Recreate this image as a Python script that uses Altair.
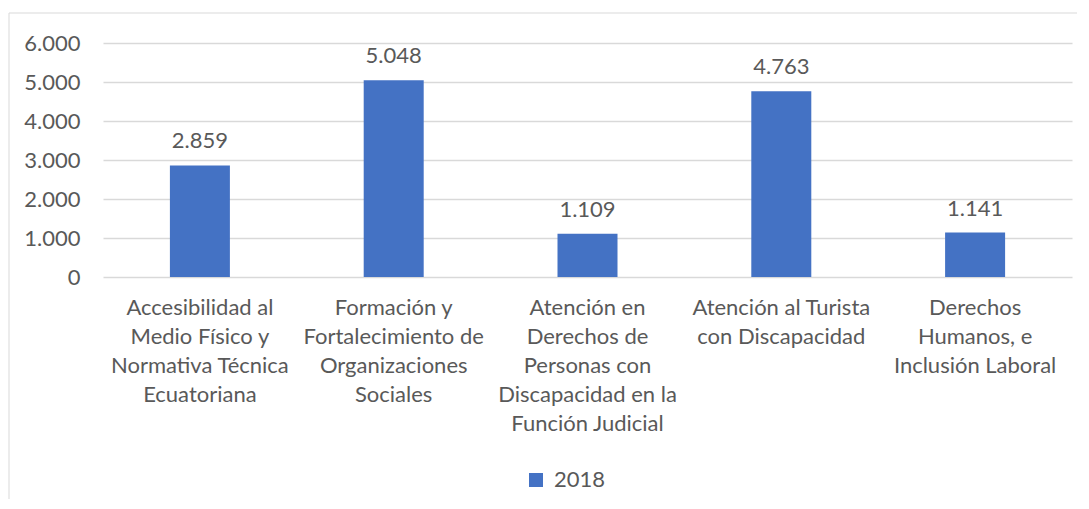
import altair as alt
import pandas as pd

categories = [
    "Accesibilidad al|Medio Físico y|Normativa Técnica|Ecuatoriana",
    "Formación y|Fortalecimiento de|Organizaciones|Sociales",
    "Atención en|Derechos de|Personas con|Discapacidad en la|Función Judicial",
    "Atención al Turista|con Discapacidad",
    "Derechos|Humanos, e|Inclusión Laboral",
]
values = [2859, 5048, 1109, 4763, 1141]
series = ["2018"] * len(categories)
y_ticks = [0, 1000, 2000, 3000, 4000, 5000, 6000]

df = pd.DataFrame({"cat": categories, "val": values, "serie": series})

FONT = "Lato"
FS = 22
TXT = "#595959"
BLUE = "#4472C4"

W, H = 969, 234
PAD = {"left": 95, "top": 35, "right": 5, "bottom": 222}

base = alt.Chart(df)

frame = base.mark_rect(fill=None, stroke="#D9D9D9", strokeWidth=1).encode(
    x=alt.value(-94), x2=alt.value(1100), y=alt.value(-30), y2=alt.value(600)
).transform_filter(alt.datum.val == values[0])

x_enc = alt.X(
    "cat:N", sort=None, title=None,
    scale=alt.Scale(paddingInner=0.69, paddingOuter=0.345),
    axis=alt.Axis(
        labelExpr="split(datum.label, '|')", labelAngle=0, labelLimit=400,
        labelFont=FONT, labelFontSize=FS, labelColor=TXT, labelLineHeight=29,
        labelPadding=37, labelBaseline="alphabetic", domain=False, ticks=False,
    ),
)
y_enc = alt.Y(
    "val:Q", title=None,
    scale=alt.Scale(domain=[0, 6000], nice=False),
    axis=alt.Axis(
        values=y_ticks, labelOverlap=False,
        labelExpr="replace(format(datum.value, ',d'), ',', '.')",
        labelFont=FONT, labelFontSize=FS, labelColor=TXT, labelPadding=23,
        domain=False, ticks=False, grid=True, gridColor="#D9D9D9", gridWidth=1.5,
    ),
)

bars = base.mark_bar(size=60).encode(
    x=x_enc, y=y_enc,
    color=alt.Color(
        "serie:N", title=None,
        scale=alt.Scale(domain=["2018"], range=[BLUE]),
        legend=alt.Legend(
            orient="none", legendX=422, legendY=426, symbolType="square",
            symbolSize=196, symbolStrokeWidth=0, labelFont=FONT,
            labelFontSize=FS, labelColor=TXT, labelOffset=7,
        ),
    ),
)

labels = base.mark_text(
    font=FONT, fontSize=FS, color=TXT, baseline="alphabetic", dy=-17
).transform_calculate(
    lab="replace(format(datum.val, ',d'), ',', '.')"
).encode(x=x_enc, y=y_enc, text="lab:N")

chart = alt.layer(frame, bars, labels).properties(
    width=W, height=H,
    autosize=alt.AutoSizeParams(type="none"),
    padding=PAD,
).configure(background="white").configure_view(stroke=None)

chart.save("out.html", embed_options={"renderer": "svg", "actions": False})
